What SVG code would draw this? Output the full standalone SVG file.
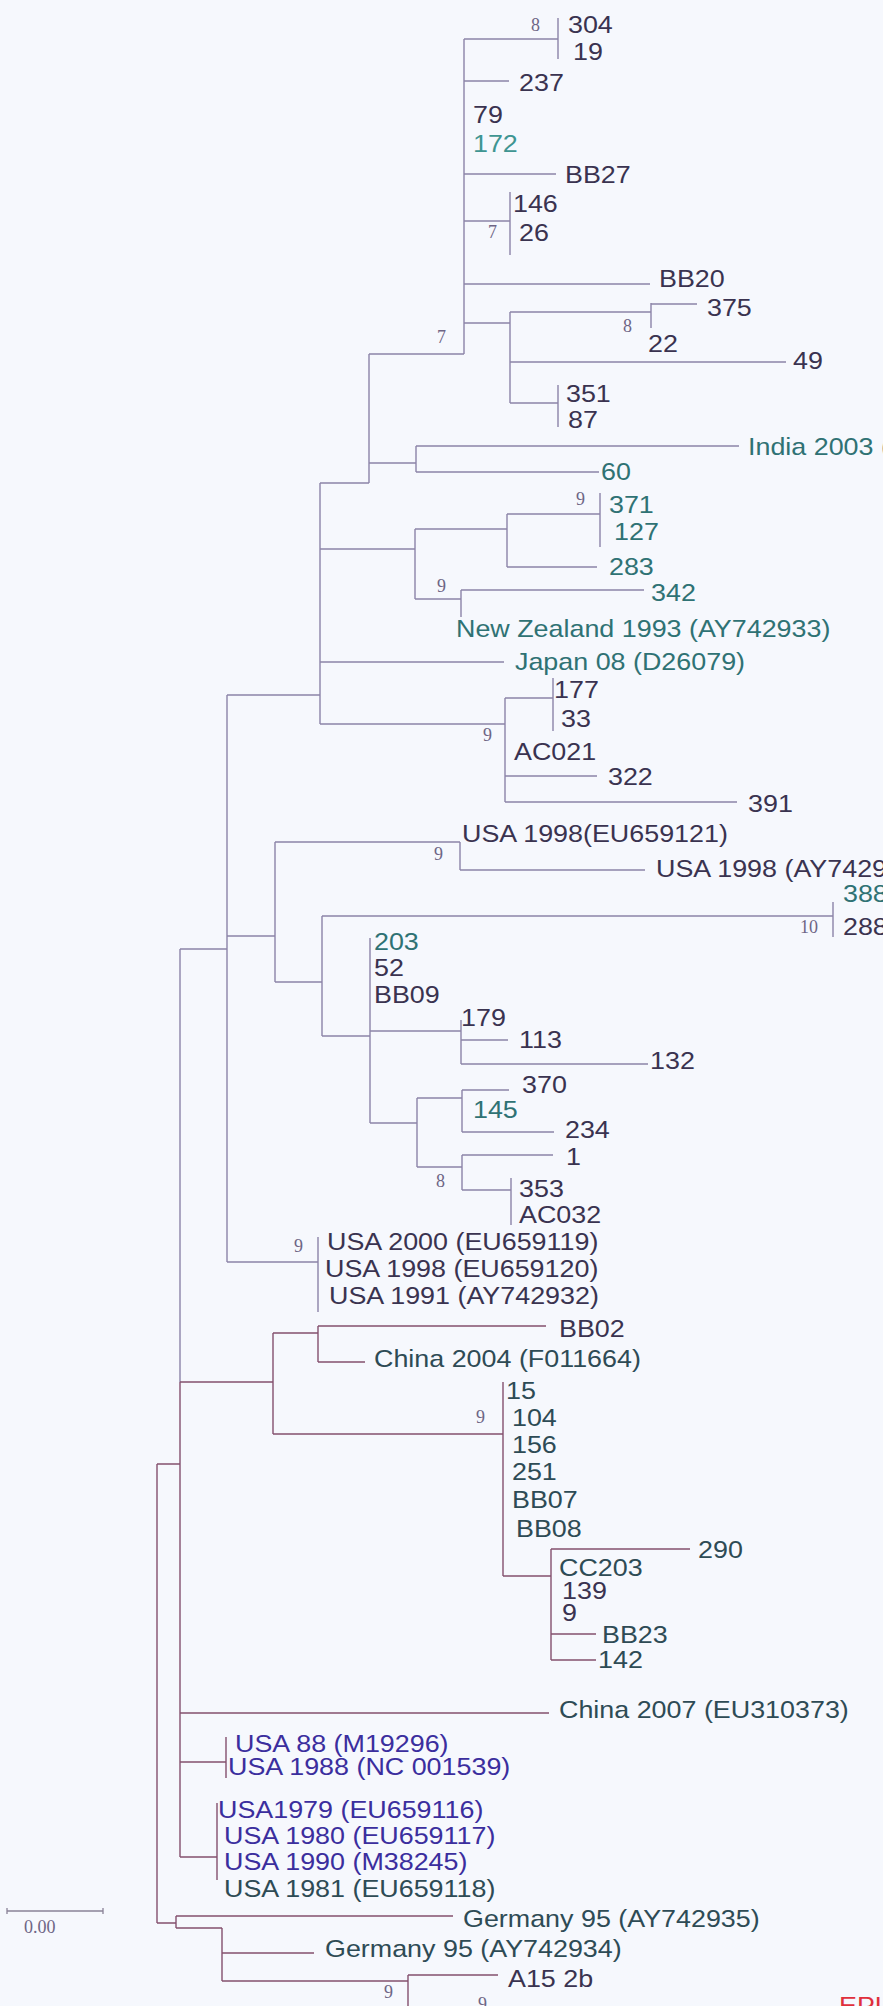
<svg xmlns="http://www.w3.org/2000/svg" width="883" height="2006" viewBox="0 0 883 2006">
<style>
.ln{fill:none;stroke:#8c84a8;stroke-width:1.4}
.ln2{fill:none;stroke:#84506e;stroke-width:1.4}
.sb{fill:none;stroke:#8a8298;stroke-width:1.3}
text.l{font-family:"Liberation Sans",Arial,sans-serif;font-size:24px;transform-box:fill-box;transform-origin:left center;transform:scaleX(1.12)}
.d{fill:#3a3350}
.t{fill:#2f7274}
.t2{fill:#3f9592}
.s{fill:#2e4b55}
.b{fill:#3b2e9e}
.r{fill:#e0303c}
text.bs{font-family:"Liberation Serif","Times New Roman",serif;font-size:18px;fill:#6e6585}
</style>
<rect x="0" y="0" width="883" height="2006" fill="#f6f8fd"/>
<g id="connectors">
<path class="ln" d="M464 39V354 M464 39H558 M558 18V59 M464 81H509 M464 174H556 M464 221H510 M510 192V255 M464 284H650 M464 323H510 M510 312V403 M510 312H651 M651 303V328 M651 304H697 M510 362H786 M510 403H558 M558 385V427 M369 354H464 M369 354V483 M369 463H416 M416 446V472 M416 446H739 M416 472H599 M320 483H369 M320 483V724 M320 549H415 M415 529V599 M415 529H507 M507 514V567 M507 514H600 M600 493V547 M507 567H597 M415 599H461 M461 590V617 M461 590H644 M320 662H504 M227 695H320 M320 724H505 M505 698V802 M505 698H553 M553 678V731 M505 776H597 M505 802H737 M227 695V1262 M275 842H460 M275 842V982 M460 842V870 M460 870H645 M227 936H275 M322 916H833 M833 902V937 M322 916V1036 M275 982H322 M322 1036H370 M370 938V1123 M370 1031H461 M461 1020V1064 M461 1040H508 M461 1064H648 M370 1123H417 M417 1098V1167 M417 1098H462 M462 1090V1132 M462 1090H509 M462 1132H554 M417 1167H462 M462 1155V1190 M462 1155H553 M462 1190H511 M511 1178V1225 M227 1262H318 M318 1237V1312 M180 949H227 M180 949V1382"/>
<path class="ln2" d="M180 1382V1857 M180 1382H273 M273 1333V1434 M273 1333H318 M318 1326V1362 M318 1326H546 M318 1362H365 M273 1434H503 M503 1382V1576 M503 1576H551 M551 1549V1660 M551 1549H690 M551 1634H596 M551 1660H596 M157 1464H180 M180 1713H549 M180 1762H226 M226 1737V1778 M180 1857H217 M217 1803V1880 M157 1464V1923 M157 1923H176 M176 1916V1928 M176 1916H453 M176 1928H222 M222 1928V1981 M222 1953H314 M222 1981H408 M408 1975V2006 M408 1975H498"/>
</g>
<g id="scale">
<path class="sb" d="M7 1911H103 M7 1908V1914 M103 1908V1914"/>
<text class="bs" x="24" y="1933">0.00</text>
</g>
<g id="bootstrap">
<text class="bs" x="531" y="31">8</text>
<text class="bs" x="488" y="238">7</text>
<text class="bs" x="623" y="332">8</text>
<text class="bs" x="437" y="343">7</text>
<text class="bs" x="576" y="505">9</text>
<text class="bs" x="437" y="592">9</text>
<text class="bs" x="483" y="741">9</text>
<text class="bs" x="434" y="860">9</text>
<text class="bs" x="800" y="933">10</text>
<text class="bs" x="436" y="1187">8</text>
<text class="bs" x="294" y="1252">9</text>
<text class="bs" x="476" y="1423">9</text>
<text class="bs" x="384" y="1998">9</text>
<text class="bs" x="478" y="2010">9</text>
</g>
<g id="n304"><text class="l d" x="568" y="33">304</text></g>
<g id="n19"><text class="l d" x="573" y="60">19</text></g>
<g id="n237"><text class="l d" x="519" y="91">237</text></g>
<g id="n79"><text class="l d" x="473" y="123">79</text></g>
<g id="n172"><text class="l t2" x="473" y="152">172</text></g>
<g id="nBB27"><text class="l d" x="565" y="183">BB27</text></g>
<g id="n146"><text class="l d" x="513" y="212">146</text></g>
<g id="n26"><text class="l d" x="519" y="241">26</text></g>
<g id="nBB20"><text class="l d" x="659" y="287">BB20</text></g>
<g id="n375"><text class="l d" x="707" y="316">375</text></g>
<g id="n22"><text class="l d" x="648" y="352">22</text></g>
<g id="n49"><text class="l d" x="793" y="369">49</text></g>
<g id="n351"><text class="l d" x="566" y="402">351</text></g>
<g id="n87"><text class="l d" x="568" y="428">87</text></g>
<g id="nIndia"><text class="l t" x="748" y="455">India 2003 (</text></g>
<g id="n60"><text class="l t" x="601" y="480">60</text></g>
<g id="n371"><text class="l t" x="609" y="513">371</text></g>
<g id="n127"><text class="l t" x="614" y="540">127</text></g>
<g id="n283"><text class="l t" x="609" y="575">283</text></g>
<g id="n342"><text class="l t" x="651" y="601">342</text></g>
<g id="nNZ"><text class="l t" x="456" y="637">New Zealand 1993 (AY742933)</text></g>
<g id="nJapan"><text class="l t" x="515" y="670">Japan 08 (D26079)</text></g>
<g id="n177"><text class="l d" x="554" y="698">177</text></g>
<g id="n33"><text class="l d" x="561" y="727">33</text></g>
<g id="nAC021"><text class="l d" x="514" y="760">AC021</text></g>
<g id="n322"><text class="l d" x="608" y="785">322</text></g>
<g id="n391"><text class="l d" x="748" y="812">391</text></g>
<g id="nUSA1998a"><text class="l d" x="462" y="842">USA 1998(EU659121)</text></g>
<g id="nUSA1998b"><text class="l d" x="656" y="877">USA 1998 (AY7429</text></g>
<g id="n388"><text class="l t" x="843" y="902">388</text></g>
<g id="n288"><text class="l d" x="843" y="935">288</text></g>
<g id="n203"><text class="l t" x="374" y="950">203</text></g>
<g id="n52"><text class="l d" x="374" y="976">52</text></g>
<g id="nBB09"><text class="l d" x="374" y="1003">BB09</text></g>
<g id="n179"><text class="l d" x="461" y="1026">179</text></g>
<g id="n113"><text class="l d" x="519" y="1048">113</text></g>
<g id="n132"><text class="l d" x="650" y="1069">132</text></g>
<g id="n370"><text class="l d" x="522" y="1093">370</text></g>
<g id="n145"><text class="l t" x="473" y="1118">145</text></g>
<g id="n234"><text class="l d" x="565" y="1138">234</text></g>
<g id="n1"><text class="l d" x="566" y="1165">1</text></g>
<g id="n353"><text class="l d" x="519" y="1197">353</text></g>
<g id="nAC032"><text class="l d" x="519" y="1223">AC032</text></g>
<g id="nUSA2000"><text class="l d" x="327" y="1250">USA 2000 (EU659119)</text></g>
<g id="nUSA1998c"><text class="l d" x="325" y="1277">USA 1998 (EU659120)</text></g>
<g id="nUSA1991"><text class="l d" x="329" y="1304">USA 1991 (AY742932)</text></g>
<g id="nBB02"><text class="l d" x="559" y="1337">BB02</text></g>
<g id="nChina2004"><text class="l s" x="374" y="1367">China 2004 (F011664)</text></g>
<g id="n15"><text class="l s" x="506" y="1399">15</text></g>
<g id="n104"><text class="l s" x="512" y="1426">104</text></g>
<g id="n156"><text class="l s" x="512" y="1453">156</text></g>
<g id="n251"><text class="l s" x="512" y="1480">251</text></g>
<g id="nBB07"><text class="l s" x="512" y="1508">BB07</text></g>
<g id="nBB08"><text class="l s" x="516" y="1537">BB08</text></g>
<g id="n290"><text class="l s" x="698" y="1558">290</text></g>
<g id="nCC203"><text class="l s" x="559" y="1576">CC203</text></g>
<g id="n139"><text class="l d" x="562" y="1599">139</text></g>
<g id="n9"><text class="l d" x="562" y="1621">9</text></g>
<g id="nBB23"><text class="l s" x="602" y="1643">BB23</text></g>
<g id="n142"><text class="l s" x="598" y="1668">142</text></g>
<g id="nChina2007"><text class="l s" x="559" y="1718">China 2007 (EU310373)</text></g>
<g id="nUSA88"><text class="l b" x="235" y="1752">USA 88 (M19296)</text></g>
<g id="nUSA1988"><text class="l b" x="228" y="1775">USA 1988 (NC 001539)</text></g>
<g id="nUSA1979"><text class="l b" x="218" y="1818">USA1979 (EU659116)</text></g>
<g id="nUSA1980"><text class="l b" x="224" y="1844">USA 1980 (EU659117)</text></g>
<g id="nUSA1990"><text class="l b" x="224" y="1870">USA 1990 (M38245)</text></g>
<g id="nUSA1981"><text class="l s" x="224" y="1897">USA 1981 (EU659118)</text></g>
<g id="nGermany35"><text class="l s" x="463" y="1927">Germany 95 (AY742935)</text></g>
<g id="nGermany34"><text class="l s" x="325" y="1957">Germany 95 (AY742934)</text></g>
<g id="nA15"><text class="l d" x="508" y="1987">A15 2b</text></g>
<g id="nEPL"><text class="l r" x="839" y="2014">EPL</text></g>
</svg>
